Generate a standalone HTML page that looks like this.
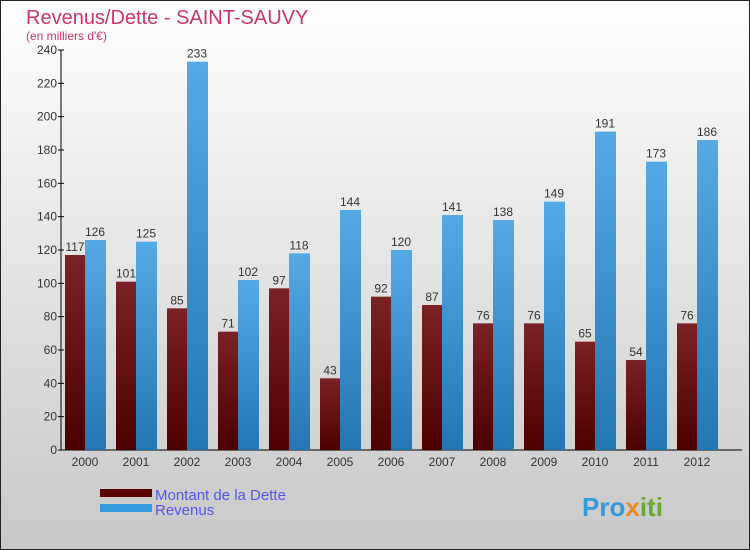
<!DOCTYPE html>
<html><head><meta charset="utf-8"><style>
body{margin:0;width:750px;height:550px;overflow:hidden}
svg{display:block;font-family:"Liberation Sans",sans-serif}
</style></head><body>
<svg id="c" width="750" height="550">
<defs>
<linearGradient id="bg" x1="0" y1="0" x2="0" y2="1"><stop offset="0" stop-color="#ffffff"/><stop offset="1" stop-color="#c8c8c8"/></linearGradient>
<linearGradient id="gd" x1="0" y1="0" x2="0" y2="1"><stop offset="0" stop-color="#7a2226"/><stop offset="1" stop-color="#4c0000"/></linearGradient>
<linearGradient id="gr" x1="0" y1="0" x2="0" y2="1"><stop offset="0" stop-color="#55aae6"/><stop offset="1" stop-color="#2277b3"/></linearGradient>
</defs>
<rect x="0.5" y="0.5" width="749" height="549" fill="url(#bg)" stroke="#222"/>
<text x="26" y="24" font-size="20" fill="#c8356a">Revenus/Dette - SAINT-SAUVY</text>
<text x="26" y="40" font-size="12" fill="#c8356a">(en milliers d'€)</text>
<g id="plot"></g>
<rect x="100" y="489" width="52" height="8" fill="#5c0000"/>
<text x="155" y="500" font-size="15" fill="#5555ee">Montant de la Dette</text>
<rect x="100" y="504" width="52" height="8" fill="#3399dd"/>
<text x="155" y="515" font-size="15" fill="#5555ee">Revenus</text>
<text x="582" y="516" font-size="26" font-weight="bold" fill="#3399dd">Pro<tspan fill="#ee8822">x</tspan><tspan fill="#66aa33">iti</tspan></text>
</svg>
<script>
const years=["2000","2001","2002","2003","2004","2005","2006","2007","2008","2009","2010","2011","2012"];
const dette=[117,101,85,71,97,43,92,87,76,76,65,54,76];
const revenus=[126,125,233,102,118,144,120,141,138,149,191,173,186];
const ticks=[0,20,40,60,80,100,120,140,160,180,200,220,240];
const NS="http://www.w3.org/2000/svg";
const g=document.getElementById('plot');
const y=v=>450-v*400/240;
const xc=i=>85+i*51;
function mk(t,a){const e=document.createElementNS(NS,t);for(const k in a)e.setAttribute(k,a[k]);g.appendChild(e);return e;}
let ax=mk('line',{x1:61,y1:50,x2:61,y2:450,stroke:'#000'});


let bx=mk('line',{x1:61,y1:450,x2:742,y2:450,stroke:'#000'});


ticks.forEach(t=>{
 let l=mk('line',{x1:58,y1:y(t),x2:64,y2:y(t),stroke:'#000'});
 
 
 let tx=mk('text',{x:57,y:y(t)+4,'font-size':12,fill:'#333','text-anchor':'end'});
 tx.textContent=t;
 
 
});
years.forEach((yr,i)=>{
 let c=xc(i);
 let b1=mk('rect',{x:c-20,y:y(dette[i]),width:20,height:450-y(dette[i]),fill:'url(#gd)'});
 
 
 let b2=mk('rect',{x:c,y:y(revenus[i]),width:21,height:450-y(revenus[i]),fill:'url(#gr)'});
 
 
 let v1=mk('text',{x:c-10,y:y(dette[i])-4,'font-size':12,fill:'#333','text-anchor':'middle'});
 v1.textContent=dette[i];
 
 
 let v2=mk('text',{x:c+10,y:y(revenus[i])-4,'font-size':12,fill:'#333','text-anchor':'middle'});
 v2.textContent=revenus[i];
 
 
 let xl=mk('text',{x:c,y:466,'font-size':12,fill:'#333','text-anchor':'middle'});
 xl.textContent=yr;
 
 
});
</script>
</body></html>
